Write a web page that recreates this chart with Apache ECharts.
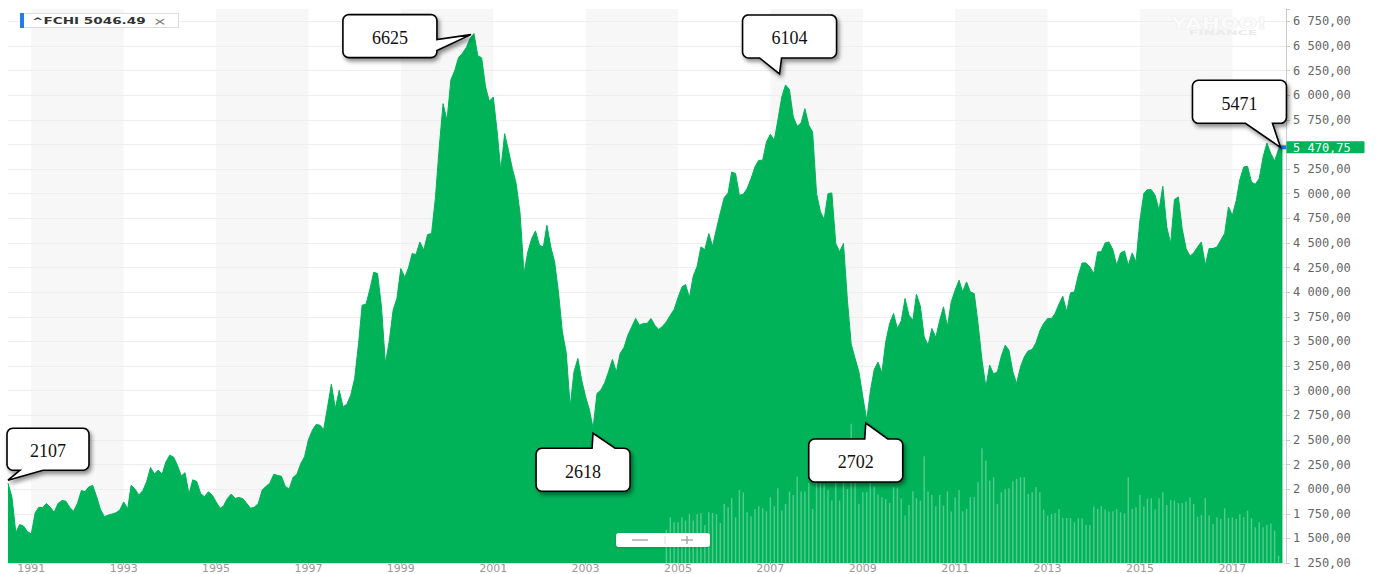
<!DOCTYPE html>
<html><head><meta charset="utf-8">
<script src="https://cdn.jsdelivr.net/npm/echarts@6/dist/echarts.min.js"></script>
<style>html,body{margin:0;padding:0;background:#fff;overflow:hidden}#main{width:1379px;height:574px}</style>
</head><body><div id="main"></div>
<script>
// ---- data (monthly closes) ----
const firstMonth = { year: 1990, month: 7 };
const priceValues = [
  2060, 1920, 1560, 1640, 1625, 1570,
  1545, 1760, 1815, 1812, 1855, 1815, 1765, 1855, 1885, 1878, 1815, 1775,
  1855, 1985, 1975, 2024, 2038, 1922, 1795, 1720, 1737, 1747, 1760, 1788,
  1870, 1800, 2040, 1998, 1940, 1985, 2075, 2220, 2153, 2194, 2153, 2278,
  2346, 2322, 2244, 2133, 2167, 1950, 2095, 2078, 1956, 1922, 1973, 1940,
  1872, 1805, 1829, 1906, 1950, 1906, 1916, 1903, 1855, 1805, 1818, 1855,
  1990, 2030, 2060, 2150, 2140, 2130, 2030, 2000, 2120, 2150, 2260, 2330,
  2505, 2599, 2655, 2650, 2606, 2836, 3066, 2819, 3005, 2836, 2863, 2954,
  3124, 3479, 3868, 3878, 4027, 4203, 4189, 3851, 3276, 3496, 3817, 3936,
  4240, 4149, 4240, 4392, 4382, 4510, 4426, 4585, 4595, 4950, 5474, 5914,
  5745, 6157, 6245, 6380, 6424, 6482, 6574, 6625, 6400, 6380, 6083, 5938,
  5981, 5626, 5238, 5609, 5440, 5255, 5103, 4798, 4189, 4409, 4544, 4622,
  4476, 4459, 4679, 4459, 4307, 3993, 3600, 3385, 2836, 3190, 3327, 3107,
  2938, 2802, 2618, 2971, 3005, 3080, 3190, 3317, 3190, 3378, 3439, 3563,
  3648, 3733, 3665, 3682, 3682, 3733, 3665, 3620, 3655, 3699, 3766, 3824,
  3946, 4053, 4078, 3946, 4162, 4263, 4459, 4432, 4595, 4466, 4645, 4804,
  4960, 5008, 5220, 5204, 4984, 4994, 5052, 5153, 5271, 5339, 5339, 5525,
  5603, 5542, 5745, 5982, 6104, 6056, 5779, 5684, 5718, 5863, 5694, 5627,
  5001, 4815, 4737, 5001, 5008, 4494, 4409, 4494, 3918, 3472, 3327, 3190,
  2938, 2702, 2990, 3215, 3290, 3182, 3495, 3682, 3783, 3631, 3709, 3936,
  3766, 3715, 3979, 3858, 3546, 3462, 3631, 3540, 3715, 3851, 3648, 3902,
  4020, 4121, 4003, 4104, 4003, 3986, 3682, 3310, 3039, 3259, 3168, 3192,
  3350, 3462, 3411, 3192, 3073, 3242, 3343, 3404, 3418, 3485, 3607, 3682,
  3733, 3733, 3783, 3878, 3959, 3800, 3993, 4003, 4172, 4297, 4297, 4257,
  4189, 4409, 4409, 4500, 4510, 4432, 4273, 4398, 4419, 4273, 4398, 4307,
  4730, 5001, 5041, 5041, 4984, 4831, 5075, 4662, 4494, 4940, 4967, 4645,
  4443, 4365, 4398, 4459, 4510, 4273, 4443, 4443, 4459, 4527, 4595, 4865,
  4781, 4933, 5143, 5271, 5278, 5119, 5095, 5153, 5373, 5514, 5407, 5332,
  5450, 5470.75
];
const volumeFirstIndex = 171; // Oct 2004
const volumeValues = [
  99,137,122,122,137,127,147,127,147,150,
  114,152,150,147,120,177,167,194,137,219,
  212,152,140,162,170,164,155,197,170,224,
  157,177,214,204,259,214,214,240,162,277,
  242,236,219,187,247,187,242,222,417,292,
  177,212,212,244,229,205,197,192,180,227,
  224,194,142,174,215,194,187,320,214,204,
  170,204,172,215,154,197,219,155,162,197,
  197,242,344,307,247,257,177,212,222,224,
  245,252,257,257,207,212,227,212,160,142,
  147,150,162,135,135,135,122,134,134,114,
  114,169,162,170,160,154,155,162,152,149,
  257,162,167,204,169,192,194,160,194,212,
  174,189,187,179,179,184,197,177,139,144,
  195,142,117,137,132,164,135,137,132,147,
  137,157,134,107,122,107,114,119,97,22
];
const yearLabels = [1991,1993,1995,1997,1999,2001,2003,2005,2007,2009,2011,2013,2015,2017];
const bandStartYears = [1991,1995,1999,2003,2007,2011,2015];
const yMin = 1250, yMax = 6875, yStep = 250;
const lastQuote = 5470.75;
const tickerText = '^FCHI 5046.49';
const calloutLabels = ['2107','6625','2618','6104','2702','5471'];
const calloutIndices = [0,121,152,202,223,331];

// ---- derived ----
const monthDates = priceValues.map((_, i) => new Date(firstMonth.year, firstMonth.month - 1 + i, 1).getTime());
const axisEnd = new Date(firstMonth.year, firstMonth.month - 1 + priceValues.length, 1).getTime();
const yearTicks = yearLabels.map(y => new Date(y, 0, 1).getTime());
const priceData = priceValues.map((v, i) => [monthDates[i], v]);
const volumeData = volumeValues.map((v, k) => [monthDates[volumeFirstIndex + k], v]);
const bandData = bandStartYears.map(y => [{ xAxis: new Date(y, 0, 1).getTime() }, { xAxis: new Date(y + 2, 0, 1).getTime() }]);

function frNumber(v) {
  const p = v.toFixed(2).split('.');
  return p[0].replace(/\B(?=(\d{3})+(?!\d))/g, ' ') + ',' + p[1];
}

const GREEN = '#00b359';
const AXIS_FONT = 'DejaVu Sans Mono';
const chart = echarts.init(document.getElementById('main'), null, { renderer: 'svg' });

chart.setOption({
  animation: false,
  backgroundColor: '#ffffff',
  grid: { left: 8, right: 93, top: 9, bottom: 11, containLabel: false, outerBoundsMode: 'none' },
  xAxis: {
    type: 'value', min: monthDates[0], max: axisEnd, z: 2,
    axisLine: { show: true, lineStyle: { color: '#e4e4e4' } },
    axisTick: { show: true, length: 2, lineStyle: { color: '#bbbbbb' }, customValues: yearTicks },
    axisLabel: { customValues: yearTicks, formatter: v => String(new Date(v).getFullYear()), color: '#999', fontSize: 11, lineHeight: 11, fontFamily: 'DejaVu Sans', margin: 0 },
    splitLine: { show: false }
  },
  yAxis: [{
    type: 'value', position: 'right', min: yMin, max: yMax, interval: yStep, z: 2,
    axisLine: { show: true, lineStyle: { color: '#cccccc' } },
    axisTick: { show: true, length: 4, lineStyle: { color: '#cccccc' } },
    axisLabel: {
      margin: 7, color: '#666', fontSize: 12, fontFamily: AXIS_FONT,
      // the tick hidden under the last-quote badge is left blank, as in the reference
      formatter: v => (v % yStep === 0 && Math.abs(v - lastQuote) >= yStep / 2 ? frNumber(v) : '')
    },
    splitLine: { show: true, showMaxLine: false, lineStyle: { color: '#eeeeee', width: 1 } }
  }, {
    type: 'value', show: false, min: 0, max: 1660, splitLine: { show: false }
  }],
  series: [{
    name: 'bands', type: 'line', data: [], silent: true, z: 1, symbol: 'none',
    markArea: { silent: true, itemStyle: { color: '#f7f7f7' }, label: { show: false }, data: bandData }
  }, {
    name: '^FCHI', type: 'line', data: priceData, z: 3, symbol: 'none', showSymbol: false,
    lineStyle: { width: 1, color: GREEN }, areaStyle: { color: GREEN, opacity: 1 },
    markPoint: {
      silent: true, symbol: 'rect', symbolSize: [8, 4], itemStyle: { color: '#1f7ee8' }, label: { show: false },
      data: [{ coord: [monthDates[monthDates.length - 1], lastQuote] }]
    }
  }, {
    name: 'volume', type: 'bar', yAxisIndex: 1, data: volumeData, z: 4, silent: true,
    barWidth: 1.4, itemStyle: { color: 'rgba(255,255,255,0.32)' }
  }]
});

// ---- annotations ----
const calloutLayout = [
  { tip: [0, -3],  box: [-1, -52, 82, 42],  side: 'bottom', base: [12, 35] },
  { tip: [-3, 1],  box: [-128, -20, 94, 43], side: 'right', base: [5, 16] },
  { tip: [0, 5],   box: [-57, 15, 94, 43],  side: 'top',    base: [-1, 22] },
  { tip: [-6, -11],box: [-37, -59, 94, 43], side: 'bottom', base: [-20, 2] },
  { tip: [-1, 3],  box: [-57, 16, 94, 43],  side: 'top',    base: [-1, 22] },
  { tip: [-2, 0],  box: [-88, -67, 94, 43], side: 'bottom', base: [-35, -8] }
];

function arcPts(pts, cx, cy, r, a0, a1) {
  for (let k = 0; k <= 6; k++) {
    const a = (a0 + (a1 - a0) * k / 6) * Math.PI / 180;
    pts.push([cx + r * Math.cos(a), cy + r * Math.sin(a)]);
  }
}
function bubble(tx, ty, L) {
  const bx = tx + L.box[0], by = ty + L.box[1], w = L.box[2], h = L.box[3], r = 6;
  const pts = [];
  arcPts(pts, bx + r, by + r, r, 180, 270);
  if (L.side === 'top') { pts.push([tx + L.base[0], by], [tx, ty], [tx + L.base[1], by]); }
  arcPts(pts, bx + w - r, by + r, r, 270, 360);
  if (L.side === 'right') { pts.push([bx + w, ty + L.base[0]], [tx, ty], [bx + w, ty + L.base[1]]); }
  arcPts(pts, bx + w - r, by + h - r, r, 0, 90);
  if (L.side === 'bottom') { pts.push([tx + L.base[1], by + h], [tx, ty], [tx + L.base[0], by + h]); }
  arcPts(pts, bx + r, by + h - r, r, 90, 180);
  return { pts, cx: bx + w / 2, cy: by + h / 2 };
}

const graphics = [];
calloutIndices.forEach((idx, n) => {
  const p = chart.convertToPixel({ xAxisIndex: 0, yAxisIndex: 0 }, [monthDates[idx], priceValues[idx]]);
  const L = calloutLayout[n];
  const tx = p[0] + L.tip[0], ty = p[1] + L.tip[1];
  const b = bubble(tx, ty, L);
  graphics.push({
    type: 'polygon', z: 100, silent: true, shape: { points: b.pts },
    style: { fill: '#fff', stroke: '#000', lineWidth: 1.6, shadowBlur: 4, shadowOffsetX: 2, shadowOffsetY: 3, shadowColor: 'rgba(0,0,0,0.45)' }
  });
  graphics.push({
    type: 'text', z: 101, silent: true, x: b.cx, y: b.cy + 2,
    style: { text: calloutLabels[n], fill: '#111', font: '18px "Liberation Serif"', align: 'center', verticalAlign: 'middle', textAlign: 'center', textVerticalAlign: 'middle' }
  });
});

// last-quote badge on the price axis
const q = chart.convertToPixel({ xAxisIndex: 0, yAxisIndex: 0 }, [axisEnd, lastQuote]);
graphics.push(
  { type: 'rect', z: 60, silent: true, shape: { x: q[0] + 0.5, y: q[1] - 6, width: 78, height: 12, r: 1 }, style: { fill: GREEN } },
  { type: 'text', z: 61, silent: true, x: q[0] + 7, y: q[1] + 0.5,
    style: { text: frNumber(lastQuote), fill: '#fff', font: '12px "' + AXIS_FONT + '"', align: 'left', verticalAlign: 'middle', textAlign: 'left', textVerticalAlign: 'middle' } }
);

// ticker chip
graphics.push(
  { type: 'rect', z: 90, silent: true, shape: { x: 20.5, y: 13.5, width: 158, height: 14 }, style: { fill: '#fff', stroke: '#dddddd', lineWidth: 1 } },
  { type: 'rect', z: 91, silent: true, shape: { x: 20, y: 13, width: 4, height: 15 }, style: { fill: '#1f7ee8' } },
  { type: 'text', z: 91, silent: true, x: 32, y: 20.8, scaleX: 1.6,
    style: { text: tickerText, fill: '#333', font: 'bold 8.5px "DejaVu Sans"', align: 'left', verticalAlign: 'middle', textAlign: 'left', textVerticalAlign: 'middle' } },
  { type: 'text', z: 91, silent: true, x: 160, y: 20.8, scaleX: 1.5,
    style: { text: '×', fill: '#777', font: '11px "DejaVu Sans"', align: 'center', verticalAlign: 'middle', textAlign: 'center', textVerticalAlign: 'middle' } }
);
// watermark
graphics.push(
  { type: 'text', z: 5, silent: true, x: 1219, y: 24, scaleX: 1.45,
    style: { text: 'YAHOO!', fill: '#fafafa', stroke: '#e8e8e8', lineWidth: 0.7, font: 'bold 15px "DejaVu Sans"', align: 'center', verticalAlign: 'middle', textAlign: 'center', textVerticalAlign: 'middle' } },
  { type: 'text', z: 5, silent: true, x: 1223, y: 33, scaleX: 2.0,
    style: { text: 'FINANCE', fill: '#ebebeb', font: 'bold 7px "DejaVu Sans"', align: 'center', verticalAlign: 'middle', textAlign: 'center', textVerticalAlign: 'middle' } }
);
// zoom control
graphics.push(
  { type: 'rect', z: 90, silent: true, shape: { x: 616, y: 533, width: 94, height: 14, r: 3 },
    style: { fill: '#fff', shadowBlur: 3, shadowColor: 'rgba(0,0,0,0.15)', shadowOffsetY: 1 } },
  { type: 'line', z: 91, silent: true, shape: { x1: 632, y1: 540, x2: 648, y2: 540 }, style: { stroke: '#999', lineWidth: 1.2 } },
  { type: 'line', z: 91, silent: true, shape: { x1: 665, y1: 536, x2: 665, y2: 544 }, style: { stroke: '#dddddd', lineWidth: 1 } },
  { type: 'line', z: 91, silent: true, shape: { x1: 681, y1: 540, x2: 693, y2: 540 }, style: { stroke: '#999', lineWidth: 1.2 } },
  { type: 'line', z: 91, silent: true, shape: { x1: 687, y1: 536, x2: 687, y2: 544 }, style: { stroke: '#999', lineWidth: 1.2 } }
);

chart.setOption({ graphic: graphics });
</script>
</body></html>
